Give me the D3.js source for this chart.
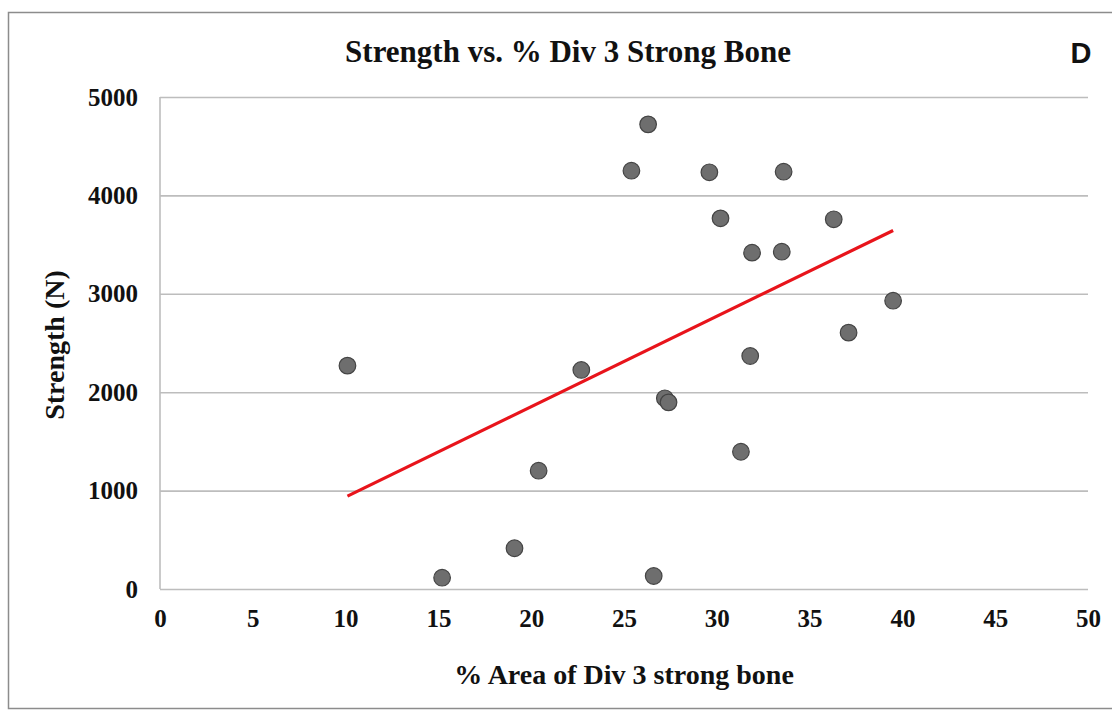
<!DOCTYPE html>
<html>
<head>
<meta charset="utf-8">
<script src="https://cdn.jsdelivr.net/npm/d3@7"></script>
<style>
  body { margin: 0; background: #fff; }
  svg { display: block; }
  .tick text { font-family: "Liberation Serif", "Times New Roman", serif; font-weight: bold; font-size: 25px; fill: #111; }
  .gridlines line { stroke: #bdbdbd; stroke-width: 1.6; }
  .gridlines .domain { display: none; }
  .axis-title { font-family: "Liberation Serif", "Times New Roman", serif; font-weight: bold; fill: #111; }
</style>
</head>
<body>
<script>
// % area of Div 3 strong bone
var areaPct = [10.1, 15.2, 19.1, 20.4, 22.7, 25.4, 26.3, 26.6, 27.2, 27.4,
               29.6, 30.2, 31.3, 31.8, 31.9, 33.5, 33.6, 36.3, 37.1, 39.5];
// strength (N)
var strength = [2270, 115, 414, 1202, 2226, 4251, 4722, 132, 1938, 1897,
                4235, 3767, 1395, 2368, 3418, 3428, 4241, 3757, 2605, 2930];

var xTicks = [0, 5, 10, 15, 20, 25, 30, 35, 40, 45, 50];
var yTicks = [0, 1000, 2000, 3000, 4000, 5000];

var width = 1112, height = 711;

var svg = d3.select("body").append("svg")
    .attr("width", width)
    .attr("height", height);

// chart frame
svg.append("rect")
    .attr("x", 8.5)
    .attr("y", 12.5)
    .attr("width", 1120)
    .attr("height", 696)
    .attr("fill", "none")
    .attr("stroke", "#8c8c8c")
    .attr("stroke-width", 1.5);

var xScale = d3.scaleLinear()
    .domain([0, 50])
    .range([160, 1088]);

var yScale = d3.scaleLinear()
    .domain([0, 5000])
    .range([589, 97]);

// horizontal gridlines
var yGridlines = d3.axisLeft(yScale)
    .tickValues(yTicks)
    .tickFormat("")
    .tickSize(-(1088 - 160));

svg.append("g")
    .attr("class", "gridlines")
    .attr("transform", "translate(160,0)")
    .call(yGridlines);

// vertical axis line
svg.append("line")
    .attr("x1", 160).attr("x2", 160)
    .attr("y1", yScale(5000)).attr("y2", yScale(0))
    .attr("stroke", "#bdbdbd")
    .attr("stroke-width", 1.6);

// tick labels
var yAxis = d3.axisLeft(yScale)
    .tickValues(yTicks)
    .tickFormat(d3.format("d"))
    .tickSize(0)
    .tickPadding(22);

svg.append("g")
    .attr("transform", "translate(160,0)")
    .call(yAxis)
    .call(function (g) { g.select(".domain").remove(); });

var xAxis = d3.axisBottom(xScale)
    .tickValues(xTicks)
    .tickFormat(d3.format("d"))
    .tickSize(0)
    .tickPadding(20);

svg.append("g")
    .attr("transform", "translate(0," + yScale(0) + ")")
    .call(xAxis)
    .call(function (g) { g.select(".domain").remove(); });

// linear trendline (least squares)
var n = areaPct.length;
var mx = d3.mean(areaPct), my = d3.mean(strength);
var sxy = 0, sxx = 0;
for (var i = 0; i < n; i++) {
    sxy += (areaPct[i] - mx) * (strength[i] - my);
    sxx += (areaPct[i] - mx) * (areaPct[i] - mx);
}
var slope = sxy / sxx;
var intercept = my - slope * mx;
var xExtent = d3.extent(areaPct);

svg.append("line")
    .attr("x1", xScale(xExtent[0]))
    .attr("y1", yScale(intercept + slope * xExtent[0]))
    .attr("x2", xScale(xExtent[1]))
    .attr("y2", yScale(intercept + slope * xExtent[1]))
    .attr("stroke", "#e8141b")
    .attr("stroke-width", 3.2);

// points
svg.append("g")
    .selectAll("circle")
    .data(d3.range(n))
    .enter().append("circle")
    .attr("cx", function (i) { return xScale(areaPct[i]); })
    .attr("cy", function (i) { return yScale(strength[i]); })
    .attr("r", 8.3)
    .attr("fill", "#6e6e6e")
    .attr("stroke", "#444")
    .attr("stroke-width", 1.2);

// titles
svg.append("text")
    .attr("class", "axis-title")
    .attr("x", 568)
    .attr("y", 62)
    .attr("text-anchor", "middle")
    .attr("font-size", 31)
    .text("Strength vs. % Div 3 Strong Bone");

svg.append("text")
    .attr("x", 1081)
    .attr("y", 63)
    .attr("text-anchor", "middle")
    .attr("font-family", "'Liberation Sans', Arial, sans-serif")
    .attr("font-size", 29)
    .attr("font-weight", "bold")
    .attr("fill", "#111")
    .text("D");

svg.append("text")
    .attr("class", "axis-title")
    .attr("x", 624)
    .attr("y", 684)
    .attr("text-anchor", "middle")
    .attr("font-size", 28)
    .text("% Area of Div 3 strong bone");

svg.append("text")
    .attr("class", "axis-title")
    .attr("transform", "translate(64,345) rotate(-90)")
    .attr("text-anchor", "middle")
    .attr("font-size", 28)
    .text("Strength (N)");
</script>
</body>
</html>
